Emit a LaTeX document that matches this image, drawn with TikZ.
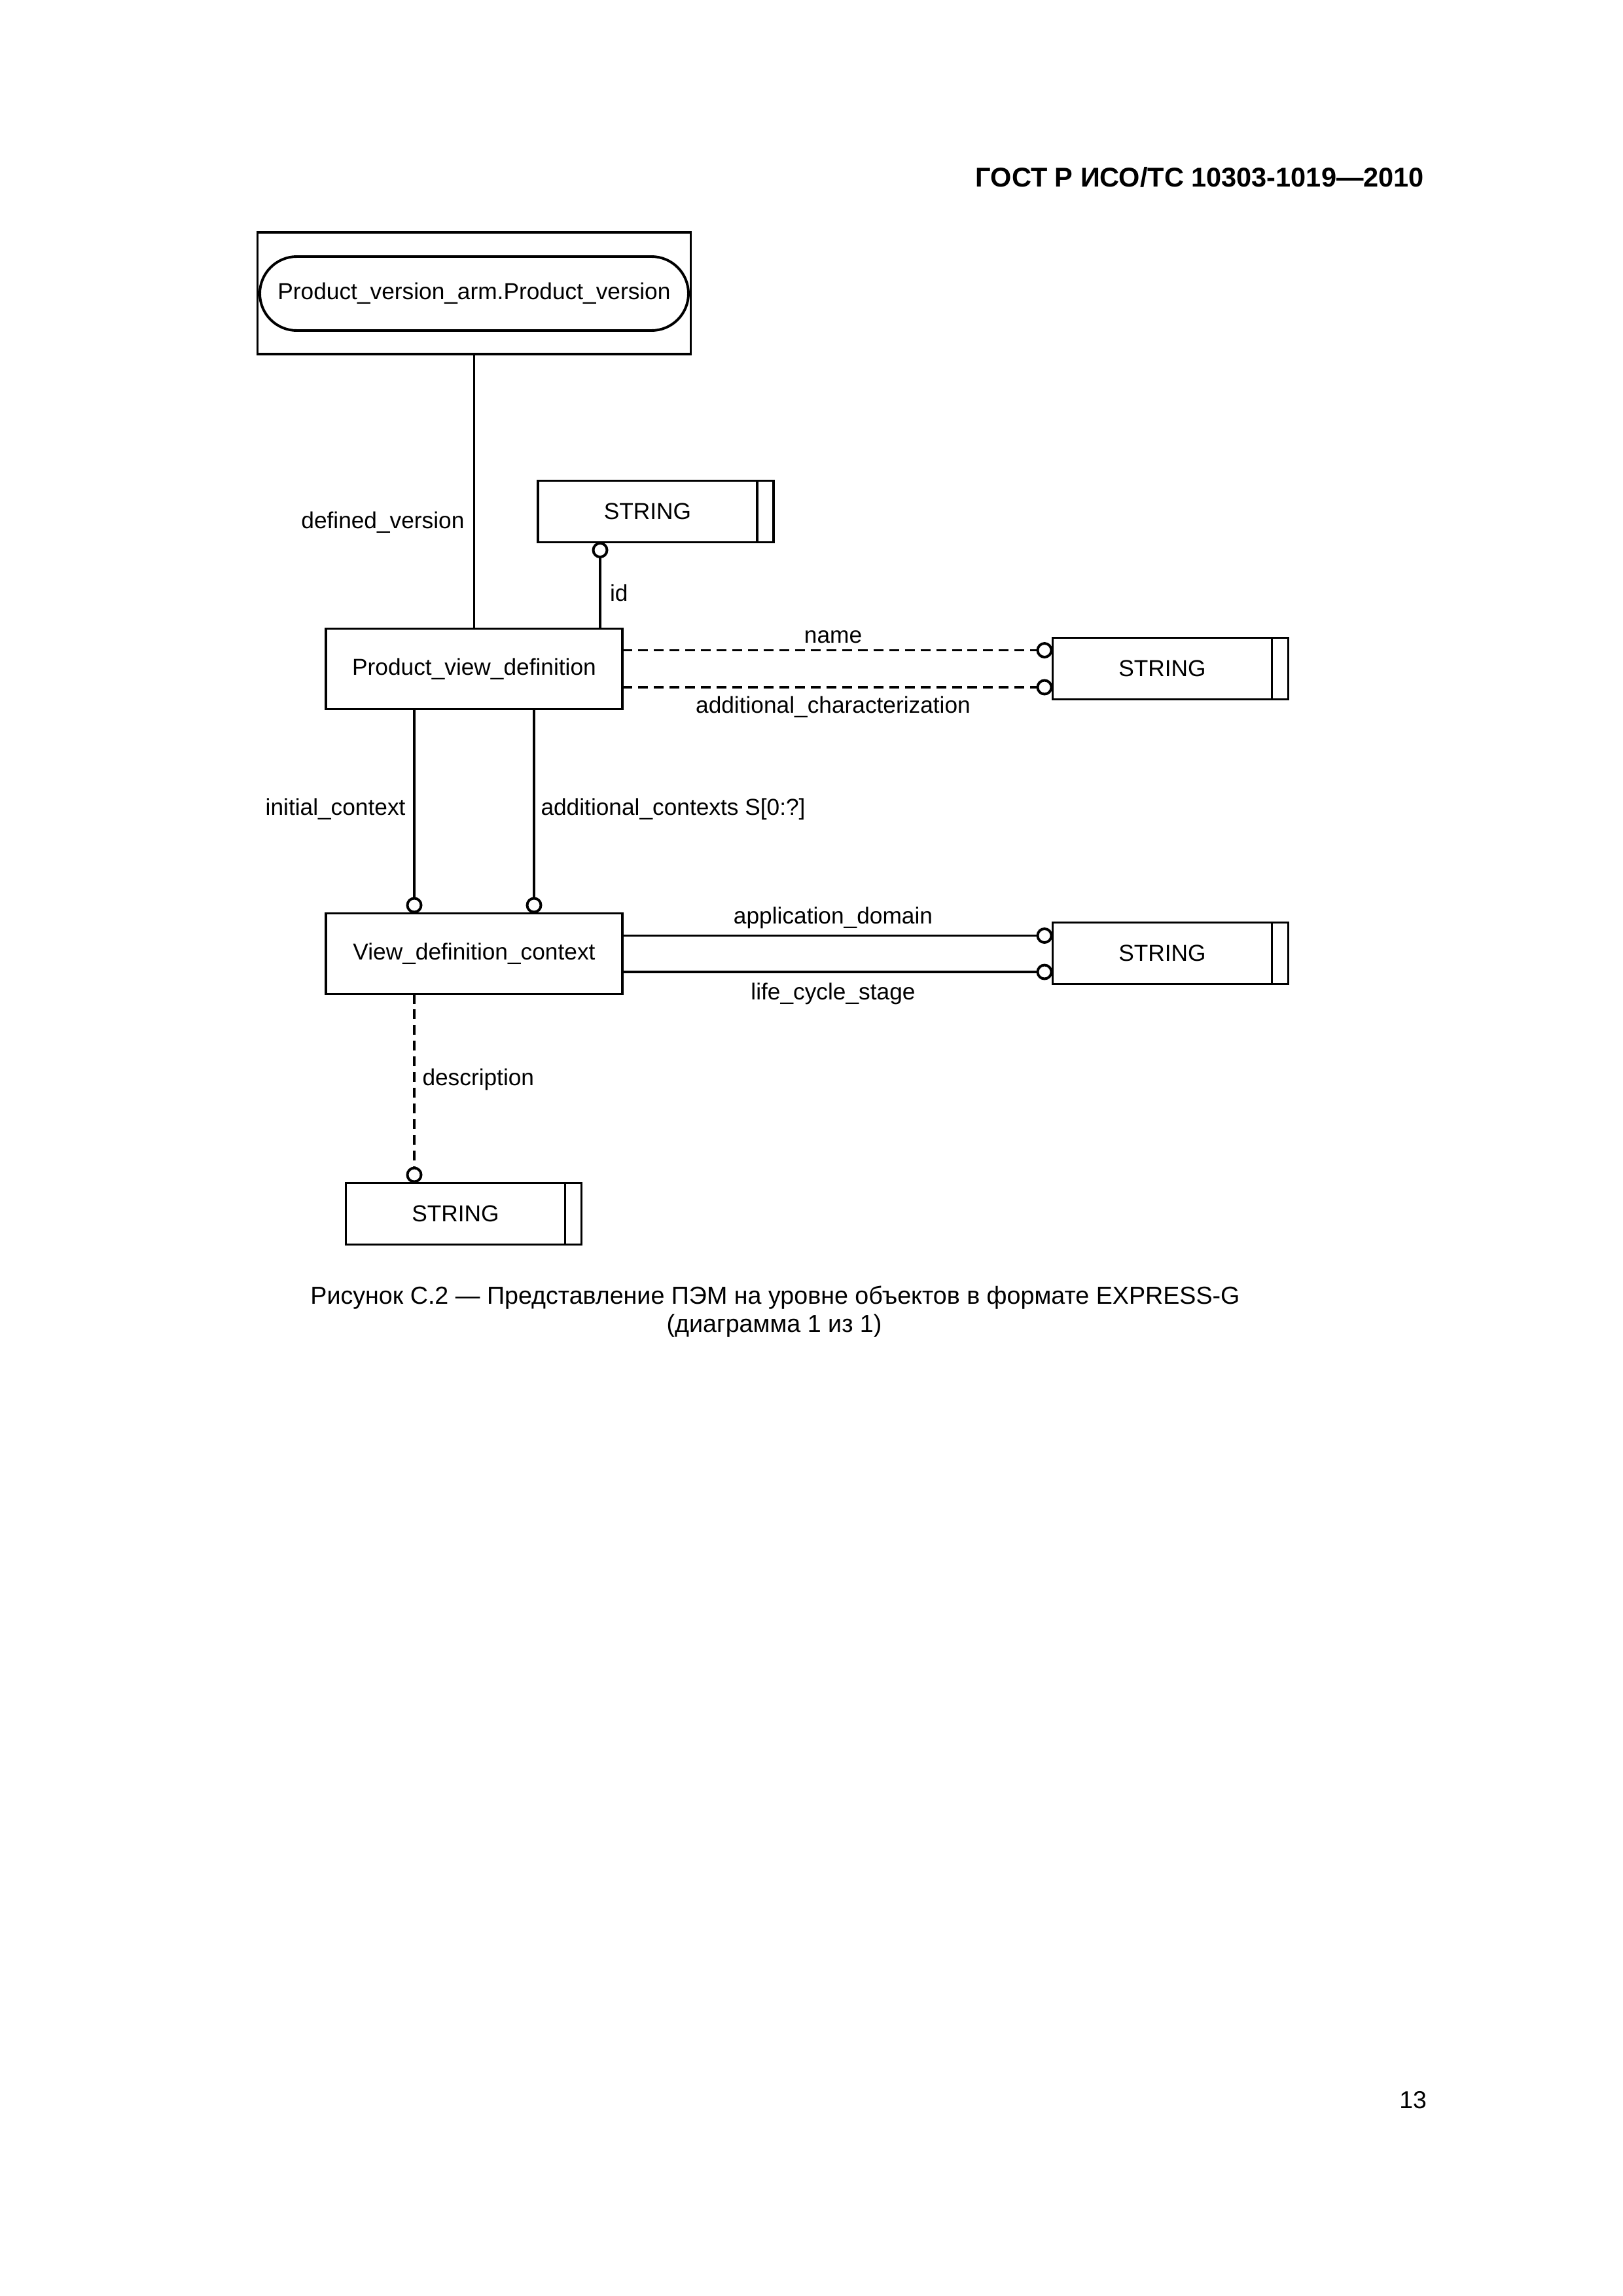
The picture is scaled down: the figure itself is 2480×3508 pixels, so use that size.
\documentclass[tikz,border=0pt]{standalone}
\usepackage{fontspec}
\setmainfont{Liberation Sans}
\usetikzlibrary{shapes.misc}
\def\pxu{0.0846774mm}
\begin{document}
\begin{tikzpicture}[x=0.0846774mm, y=-0.0846774mm,
  every node/.style={inner sep=0pt, outer sep=0pt},
  dfont/.style={font=\fontsize{8.5}{10}\selectfont},
  entity/.style={draw, line width=0.95pt, rectangle, dfont, minimum width=453*\pxu, minimum height=123*\pxu},
  stringbox/.style={draw, line width=0.95pt, rectangle, dfont, minimum width=360*\pxu, minimum height=94*\pxu,
     path picture={\draw[line width=0.95pt] ([xshift=-25*\pxu]path picture bounding box.north east) -- ([xshift=-25*\pxu]path picture bounding box.south east);}},
  circ/.style={draw, circle, line width=0.95pt, minimum size=21*\pxu, fill=white},
  conn/.style={line width=0.95pt},
  dconn/.style={line width=0.95pt, dash pattern=on 1.27mm off 0.76mm},
  lab/.style={dfont},
]
\fill[white] (0,0) rectangle (2480,3508);
\useasboundingbox (0,0) rectangle (2480,3508);

% header
\node[anchor=base east, font=\fontsize{10}{12}\selectfont\bfseries] (hdr) at (2176,285) {ГОСТ Р ИСО/ТС 10303-1019—2010};

% entities
\node[draw, line width=0.95pt, minimum width=662*\pxu, minimum height=186*\pxu] (outer) at (724.5,448) {};
\node[draw, rounded rectangle, line width=0.95pt, minimum width=655*\pxu, minimum height=113*\pxu, dfont] (pv) at (724.5,448.5) {Product\_version\_arm.Product\_version};

\node[entity] (pvd) at (724.5,1022) {Product\_view\_definition};
\node[entity] (vdc) at (724.5,1457) {View\_definition\_context};

\node[stringbox] (s1) at (1002,781.5) {STRING\rule{2.12mm}{0pt}};
\node[stringbox] (s2) at (1788.5,1021.5) {STRING\rule{2.12mm}{0pt}};
\node[stringbox] (s3) at (1788.5,1456.5) {STRING\rule{2.12mm}{0pt}};
\node[stringbox] (s4) at (708.5,1854.5) {STRING\rule{2.12mm}{0pt}};

% circles
\node[circ] (cid) at (917,840.5) {};
\node[circ] (cname) at (1596,993.5) {};
\node[circ] (cac) at (1596,1050) {};
\node[circ] (cic) at (633,1383) {};
\node[circ] (cacs) at (816,1383) {};
\node[circ] (cad) at (1596,1429.5) {};
\node[circ] (clcs) at (1596,1485) {};
\node[circ] (cdesc) at (633,1795) {};

% connectors
\draw[conn] (outer.south) -- (pvd.north);
\draw[conn] (cid.south) -- (cid.south |- pvd.north);
\draw[dconn] (cname.west -| pvd.east) -- (cname.west);
\draw[dconn] (cac.west -| pvd.east) -- (cac.west);
\draw[conn] (cic.north |- pvd.south) -- (cic.north);
\draw[conn] (cacs.north |- pvd.south) -- (cacs.north);
\draw[conn] (cad.west -| vdc.east) -- (cad.west);
\draw[conn] (clcs.west -| vdc.east) -- (clcs.west);
\draw[dconn] (cdesc.north |- vdc.south) -- (cdesc.north);

% labels
\node[lab, anchor=base east] (ldv) at (709.5,807) {defined\_version};
\node[lab, anchor=base west] (lid) at (932,918) {id};
\node[lab, anchor=base] (lname) at (1273,982) {name};
\node[lab, anchor=base] (lac) at (1273,1089) {additional\_characterization};
\node[lab, anchor=base east] (lic) at (619.5,1245) {initial\_context};
\node[lab, anchor=base west] (lacs) at (826.5,1245) {additional\_contexts S[0:?]};
\node[lab, anchor=base] (lad) at (1273,1411) {application\_domain};
\node[lab, anchor=base] (llcs) at (1273,1527) {life\_cycle\_stage};
\node[lab, anchor=base west] (ldesc) at (645.5,1658) {description};

% caption
\node[anchor=base, font=\fontsize{9.07}{10.4}\selectfont] (cap1) at (1184.5,1992) {Рисунок С.2 — Представление ПЭМ на уровне объектов в формате EXPRESS-G};
\node[anchor=base, font=\fontsize{9.07}{10.4}\selectfont] (cap2) at (1183,2035) {(диаграмма 1 из 1)};

% page number
\node[anchor=base east, font=\fontsize{9}{11}\selectfont] (pg) at (2180,3221) {13};
\end{tikzpicture}
\end{document}
